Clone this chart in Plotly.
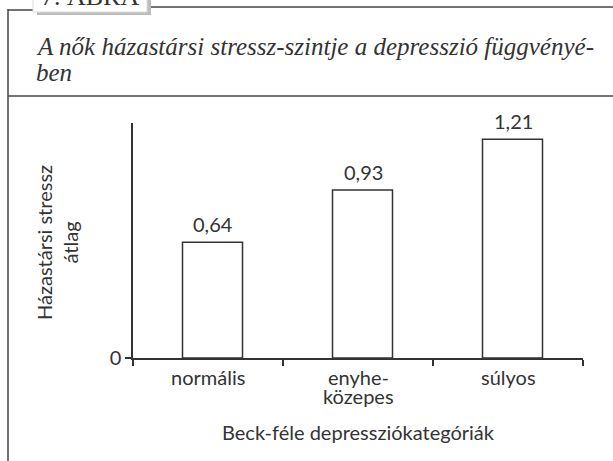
import plotly.graph_objects as go

categories = ["normális", "enyhe-<br>közepes", "súlyos"]
values = [0.64, 0.93, 1.21]
value_labels = ["0,64", "0,93", "1,21"]
y_title = "Házastársi stressz<br>átlag"
x_title = "Beck-féle depressziókategóriák"
title_line1 = "A nők házastársi stressz-szintje a depresszió függvényé-"
title_line2 = "ben"
figure_label = "7. ÁBRA"

W, H = 613, 461
X0, X1 = 133, 583   # plot area pixel x
YB, YT = 358, 123   # plot area pixel y (bottom, top)

def px(x):
    return (x - X0) / (X1 - X0)

def py(y):
    return (YB - y) / (YB - YT)

INK = "#333333"
SANS = "Lato, 'Open Sans', sans-serif"
SERIF = "'Liberation Serif', 'DejaVu Serif', serif"
FS = 20

fig = go.Figure()
fig.add_trace(go.Bar(
    x=categories, y=values,
    width=0.4, offset=-0.17,
    marker=dict(color="white", line=dict(color=INK, width=1.5)),
    hoverinfo="skip",
))

line = dict(color="#444444", width=1.5)
shapes = [
    dict(type="line", x0=px(8), x1=px(8), y0=py(9), y1=py(470), line=line),
    dict(type="line", x0=px(8), x1=px(34), y0=py(10), y1=py(10), line=line),
    dict(type="line", x0=px(148), x1=px(620), y0=py(7), y1=py(7), line=line),
    dict(type="line", x0=px(8), x1=px(620), y0=py(96), y1=py(96), line=line),
    dict(type="rect", x0=px(37), x1=px(151), y0=py(-20), y1=py(15),
         fillcolor="#bdbdbd", line=dict(width=0)),
    dict(type="rect", x0=px(33), x1=px(147), y0=py(-20), y1=py(12),
         fillcolor="white", line=dict(color="#dddddd", width=1)),
]
for s in shapes:
    s["xref"] = "paper"
    s["yref"] = "paper"
    s["layer"] = "above"

annotations = [
    dict(text=figure_label, x=px(90), y=py(-3), xanchor="center", yanchor="middle",
         font=dict(family=SERIF, size=26, color=INK)),
    dict(text="<i>" + title_line1 + "</i>", x=px(34), y=py(46), xanchor="left", yanchor="middle",
         font=dict(family=SERIF, size=25, color=INK)),
    dict(text="<i>" + title_line2 + "</i>", x=px(34), y=py(72), xanchor="left", yanchor="middle",
         font=dict(family=SERIF, size=25, color=INK)),
    dict(text=y_title, x=px(57), y=py(243), xanchor="center", yanchor="middle",
         textangle=-90, font=dict(family=SANS, size=FS, color=INK)),
    dict(text=x_title, x=px(358), y=py(432), xanchor="center", yanchor="middle",
         font=dict(family=SANS, size=FS, color=INK)),
]
for a in annotations:
    a["xref"] = "paper"
    a["yref"] = "paper"
    a["showarrow"] = False

# category tick labels, with tight line spacing
for cat in categories:
    for i, part in enumerate(cat.split("<br>")):
        annotations.append(dict(
            text=part, x=cat, xref="x", y=py(377 + 19 * i), yref="paper",
            xanchor="center", yanchor="middle", showarrow=False,
            font=dict(family=SANS, size=FS, color=INK)))

# value labels above the bars
for cat, v, lab in zip(categories, values, value_labels):
    annotations.append(dict(
        text=lab, x=cat, xref="x", y=v, yref="y", xshift=5,
        xanchor="center", yanchor="bottom", yshift=4, showarrow=False,
        font=dict(family=SANS, size=FS, color=INK)))

fig.update_layout(
    width=W, height=H,
    margin=dict(l=X0, r=W - X1, t=YT, b=H - YB, pad=0),
    paper_bgcolor="white", plot_bgcolor="white",
    showlegend=False,
    shapes=shapes, annotations=annotations,
    xaxis=dict(
        type="category", range=[-0.5, 2.5],
        showline=True, linecolor=INK, linewidth=1.5,
        ticks="outside", tickson="boundaries", ticklen=6, tickcolor=INK, tickwidth=1.5,
        showgrid=False, zeroline=False, showticklabels=False,
    ),
    yaxis=dict(
        range=[0, 1.3], tickvals=[0], ticktext=["0"],
        showline=True, linecolor=INK, linewidth=1.5,
        ticks="outside", ticklen=6, tickcolor=INK, tickwidth=1.5,
        showgrid=False, zeroline=False,
        tickfont=dict(family=SANS, size=FS, color=INK),
    ),
)

fig.write_html("out.html", config={"displayModeBar": False},
               post_script="document.body.style.margin='0';document.body.style.overflow='hidden';")
